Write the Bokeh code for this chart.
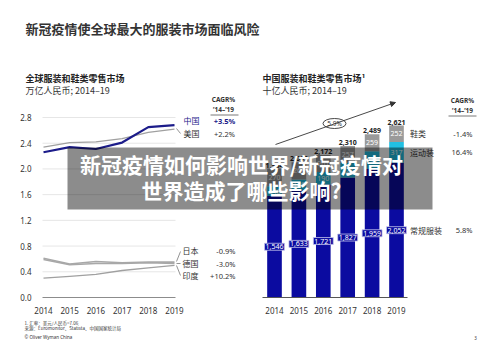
from bokeh.plotting import figure
from bokeh.models import Range1d, LinearAxis, FixedTicker, NumeralTickFormatter, Arrow, NormalHead
from bokeh.core.properties import value
from bokeh.embed import file_html
from bokeh.resources import INLINE

# ---------------- data ----------------
years = [2014, 2015, 2016, 2017, 2018, 2019]

# left chart: global apparel & footwear retail market (trillion RMB)
china = [2.26, 2.34, 2.31, 2.41, 2.65, 2.68]
usa = [2.34, 2.41, 2.42, 2.47, 2.57, 2.62]
japan = [0.61, 0.52, 0.56, 0.54, 0.55, 0.55]
germany = [0.59, 0.51, 0.53, 0.53, 0.54, 0.53]
india = [0.30, 0.33, 0.36, 0.42, 0.46, 0.50]
left_ticks = [0.0, 0.4, 0.8, 1.2, 1.6, 2.0, 2.4, 2.8]
left_names = ["中国", "美国", "日本", "德国", "印度"]
left_cagr = ["+3.5%", "+2.2%", "-0.9%", "-3.0%", "+10.2%"]

# right chart: China apparel & footwear retail market (billion RMB)
regular = [1546, 1633, 1721, 1827, 1959, 2052]
sport = [148, 166, 190, 226, 271, 317]
foot = [270, 263, 261, 257, 259, 252]
right_names = ["鞋类", "运动装", "常规服装"]
right_cagr = ["-1.4%", "16.4%", "5.8%"]
total_cagr = "5.9%"

title = "新冠疫情使全球最大的服装市场面临风险"
left_sub = ["全球服装和鞋类零售市场", "万亿人民币; 2014–19"]
right_sub = ["中国服装和鞋类零售市场¹", "十亿人民币; 2014–19"]
cagr_head = ["CAGR%", "’14–’19"]
notes = ["1. 汇率：美元/人民币=7.06", "来源：Euromonitor、Statista、中国国家统计局"]
copyright_txt = "© Oliver Wyman China"
page_no = "3"
overlay = ["新冠疫情如何影响世界/新冠疫情对", "世界造成了哪些影响?"]

# ---------------- styles ----------------
F = "Noto Sans CJK SC"
FL = "Noto Sans"
NAVY = "#0b0ba0"
CYAN = "#22c0e3"
GRAY = "#9a9a9a"
DARK = "#333333"

W, H = 484, 341
p = figure(width=W, height=H, output_backend="svg", toolbar_location=None,
           x_axis_type=None, y_axis_type=None, min_border=0,
           x_range=Range1d(0, W), y_range=Range1d(H, 0),
           outline_line_color=None, background_fill_color="white")

# left chart ranges (years x, value y)
lx_px = (174 - 43) / 5
lx0 = 2014 - 43 / lx_px
ly_px = 180 / 2.8
p.extra_x_ranges["lx"] = Range1d(lx0, lx0 + W / lx_px)
p.extra_y_ranges["ly"] = Range1d(-(H - 297) / ly_px, 297 / ly_px)
# right chart ranges
bx_px = 24.4
bx0 = 2014 - 274 / bx_px
by_px = 172 / 2621
p.extra_x_ranges["bx"] = Range1d(bx0, bx0 + W / bx_px)
p.extra_y_ranges["by"] = Range1d(-(H - 297) / by_px, 297 / by_px)


def txt(x, y, t, size, color=DARK, align="left", bold=False, font=F, **kw):
    p.text(x=x, y=y, text=t, text_font=value(font), text_font_size=value(size),
           text_color=color, text_align=align, text_baseline="middle",
           text_font_style="bold" if bold else "normal", **kw)


# ---------------- header ----------------
txt([25], [28], [title], "13px", bold=True)
txt([25], [78], [left_sub[0]], "9px", color="#222", bold=True)
txt([25], [90], [left_sub[1]], "9px")
txt([262], [78], [right_sub[0]], "9px", color="#222", bold=True)
txt([262], [90], [right_sub[1]], "9px")

# ---------------- left chart ----------------
lo, hi = lx0 + 42 / lx_px, lx0 + 175 / lx_px
grid_ticks = [t for t in left_ticks if t > 0]
p.segment(x0=[lo] * len(grid_ticks), x1=[hi] * len(grid_ticks), y0=grid_ticks, y1=grid_ticks,
          x_range_name="lx", y_range_name="ly", line_color="#e6e6e6", line_width=1)

for series, col, lw in [(japan, "#a8a8a8", 1.6), (germany, "#a8a8a8", 1.6), (india, "#a0a0a0", 1.3),
                        (usa, "#a0a0a0", 1.3), (china, "#1c1c8a", 2.2)]:
    p.line(x=years, y=series, x_range_name="lx", y_range_name="ly", line_color=col, line_width=lw)

xa = LinearAxis(x_range_name="lx", y_range_name="ly", fixed_location=0,
                ticker=FixedTicker(ticks=years), bounds=(lo, hi),
                axis_line_color="#8c8c8c", axis_line_width=1,
                major_tick_line_color=None, minor_tick_line_color=None,
                major_label_text_font=FL, major_label_text_font_size="8px",
                major_label_text_color=DARK, major_label_standoff=3)
p.add_layout(xa, "below")
ya = LinearAxis(x_range_name="lx", y_range_name="ly", fixed_location=lo,
                ticker=FixedTicker(ticks=left_ticks), formatter=NumeralTickFormatter(format="0.0"),
                axis_line_color=None, major_tick_line_color=None, minor_tick_line_color=None,
                major_label_text_font=FL, major_label_text_font_size="8px",
                major_label_text_color=DARK, major_label_standoff=5)
p.add_layout(ya, "left")

# left labels
txt([183], [120], [left_names[0]], "8px", color="#1c1c8a")
txt([183], [133], [left_names[1]], "8px")
p.segment(x0=[176], y0=[128], x1=[180], y1=[133], line_color="#777", line_width=0.8)
txt([224], [120], [left_cagr[0]], "7.5px", color="#1c1c8a", align="center", bold=True, font=FL)
txt([224], [133], [left_cagr[1]], "7.5px", align="center", font=FL)
txt([182, 182, 182], [250, 263, 275], left_names[2:], "8px")
txt([235, 235, 235], [250, 263, 275], left_cagr[2:], "7.5px", align="right", font=FL)
p.segment(x0=[176, 176, 176], y0=[261, 263, 265], x1=[180, 180, 180], y1=[251, 263, 275],
          line_color="#777", line_width=0.8)

for cx, y0 in ((223, 99), (462, 100)):
    txt([cx], [y0], [cagr_head[0]], "6.5px", align="center", bold=True, font=FL)
    txt([cx], [y0 + 10], [cagr_head[1]], "6.5px", align="center", bold=True, font=FL)
p.segment(x0=[210, 448], x1=[238, 476], y0=[114.5, 115.5], y1=[114.5, 115.5], line_color="#555", line_width=0.8)

# ---------------- right chart ----------------
s1 = [r + s for r, s in zip(regular, sport)]
tot = [a + f for a, f in zip(s1, foot)]
bw = 0.6
p.vbar(x=years, bottom=0, top=regular, width=bw, x_range_name="bx", y_range_name="by",
       fill_color=NAVY, line_color=None)
p.vbar(x=years, bottom=regular, top=s1, width=bw, x_range_name="bx", y_range_name="by",
       fill_color=CYAN, line_color=None)
p.vbar(x=years, bottom=s1, top=tot, width=bw, x_range_name="bx", y_range_name="by",
       fill_color=GRAY, line_color=None)

bxa = LinearAxis(x_range_name="bx", y_range_name="by", fixed_location=0,
                 ticker=FixedTicker(ticks=years), bounds=(bx0 + 262 / bx_px, bx0 + 407 / bx_px),
                 axis_line_color="#555", axis_line_width=1,
                 major_tick_line_color=None, minor_tick_line_color=None,
                 major_label_text_font=FL, major_label_text_font_size="8px",
                 major_label_text_color=DARK, major_label_standoff=3)
p.add_layout(bxa, "below")

p.text(x=years, y=[r / 2 for r in regular], text=[f"{v:,}" for v in regular],
       x_range_name="bx", y_range_name="by", text_font=value(FL), text_font_size=value("7px"),
       text_color="white", text_align="center", text_baseline="middle",
       background_fill_color=NAVY, border_line_color="#c4c4ec", border_line_width=0.8, padding=1)
p.text(x=years, y=[r + s / 2 for r, s in zip(regular, sport)], text=[str(v) for v in sport],
       x_range_name="bx", y_range_name="by", text_font=value(FL), text_font_size=value("7px"),
       text_color="white", text_align="center", text_baseline="middle")
p.text(x=years, y=[a + f / 2 for a, f in zip(s1, foot)], text=[str(v) for v in foot],
       x_range_name="bx", y_range_name="by", text_font=value(FL), text_font_size=value("7px"),
       text_color="white", text_align="center", text_baseline="middle")
p.text(x=years, y=tot, text=[f"{v:,}" for v in tot], x_range_name="bx", y_range_name="by",
       text_font=value(FL), text_font_size=value("7px"), text_color="#222", text_align="center",
       text_baseline="bottom", text_font_style="bold", y_offset=-1)

# right-hand labels aligned with the 2019 segments
last = len(years) - 1
mids = [s1[last] + foot[last] / 2, regular[last] + sport[last] / 2, regular[last] / 2]
p.text(x=[2019.55] * 3, y=mids, text=right_names, x_range_name="bx", y_range_name="by",
       text_font=value(F), text_font_size=value("8px"), text_color=DARK, text_baseline="middle")
p.text(x=[472] * 3, y=mids, text=right_cagr, x_range_name="by" and "default", y_range_name="by",
       text_font=value(FL), text_font_size=value("7.5px"), text_color=DARK, text_align="right",
       text_baseline="middle")

# growth arrow + ellipse
p.add_layout(Arrow(end=NormalHead(size=5, fill_color=DARK, line_color=DARK),
                   x_start=275, y_start=144, x_end=395, y_end=102, line_color=DARK, line_width=0.9))
p.ellipse(x=[334], y=[123], width=23, height=10, width_units="screen", height_units="screen",
          fill_color="white", line_color=DARK, line_width=0.9)
txt([334], [123], [total_cagr], "6.5px", align="center", font=FL)

# ---------------- footer ----------------
txt([24, 24], [322, 327], notes, "4.5px")
txt([24], [336], [copyright_txt], "4.5px", font=FL)
txt([475], [337], [page_no], "4.5px", align="center", font=FL)

# ---------------- overlay banner ----------------
p.quad(left=[67], right=[432], top=[147], bottom=[209], fill_color="black", fill_alpha=0.45,
       line_color=None)
txt([241, 241], [163, 189], overlay, "21px", color="white", align="center", bold=True)

open("out.html", "w").write(file_html(p, INLINE))
